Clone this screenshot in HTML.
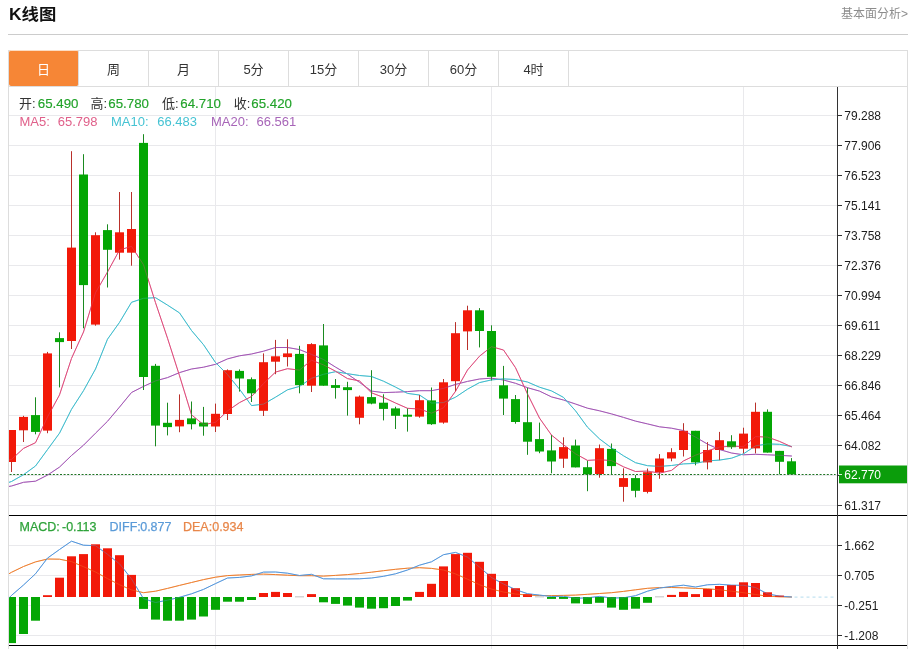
<!DOCTYPE html>
<html lang="zh-CN"><head><meta charset="utf-8"><title>K线图</title>
<style>
html,body{margin:0;padding:0;background:#fff;}
body{width:917px;height:649px;position:relative;overflow:hidden;font-family:"Liberation Sans","Noto Sans CJK SC",sans-serif;color:#333;}
.ttl{position:absolute;left:8.8px;top:0.3px;height:28px;line-height:28px;transform:scale(1.01,0.94);transform-origin:0 50%;font-size:17.2px;font-weight:bold;color:#111;white-space:nowrap;}
.more{position:absolute;right:9px;top:4.6px;height:18px;line-height:18px;font-size:12px;color:#8c8c8c;white-space:nowrap;}
.hr{position:absolute;left:8px;top:34px;width:900px;height:1px;background:#ccc;}
.tabs{position:absolute;left:8px;top:50px;width:898px;height:35px;border:1px solid #ddd;background:#fff;}
.tabs ul{list-style:none;margin:0;padding:0;}
.tabs li{float:left;width:69px;height:35px;line-height:37px;border-right:1px solid #ddd;text-align:center;font-size:13px;color:#333;}
.tabs li.on{background:#f68636;color:#fff;border-radius:2px;margin-top:-1px;border-top:1px solid #fbdcc4;}
.chart{position:absolute;left:0;top:0;width:917px;height:649px;}
.chart text{font-family:"Liberation Sans","Noto Sans CJK SC",sans-serif;}
</style></head><body>
<div class="ttl">K线图</div>
<div class="more">基本面分析&gt;</div>
<div class="hr"></div>
<div class="tabs"><ul><li class="on">日</li><li>周</li><li>月</li><li>5分</li><li>15分</li><li>30分</li><li>60分</li><li>4时</li></ul></div>
<svg class="chart" width="917" height="649" viewBox="0 0 917 649">
<g shape-rendering="crispEdges">
<rect x="8" y="86" width="1" height="563" fill="#ddd"/>
<rect x="907" y="86" width="1" height="563" fill="#ddd"/>
<rect x="9" y="115" width="828" height="1" fill="#e9e9ec"/>
<rect x="9" y="145" width="828" height="1" fill="#e9e9ec"/>
<rect x="9" y="175" width="828" height="1" fill="#e9e9ec"/>
<rect x="9" y="205" width="828" height="1" fill="#e9e9ec"/>
<rect x="9" y="235" width="828" height="1" fill="#e9e9ec"/>
<rect x="9" y="265" width="828" height="1" fill="#e9e9ec"/>
<rect x="9" y="295" width="828" height="1" fill="#e9e9ec"/>
<rect x="9" y="325" width="828" height="1" fill="#e9e9ec"/>
<rect x="9" y="355" width="828" height="1" fill="#e9e9ec"/>
<rect x="9" y="385" width="828" height="1" fill="#e9e9ec"/>
<rect x="9" y="415" width="828" height="1" fill="#e9e9ec"/>
<rect x="9" y="445" width="828" height="1" fill="#e9e9ec"/>
<rect x="9" y="475" width="828" height="1" fill="#e9e9ec"/>
<rect x="9" y="505" width="828" height="1" fill="#e9e9ec"/>
<rect x="9" y="545" width="828" height="1" fill="#e9e9ec"/>
<rect x="9" y="575" width="828" height="1" fill="#e9e9ec"/>
<rect x="9" y="605" width="828" height="1" fill="#e9e9ec"/>
<rect x="9" y="635" width="828" height="1" fill="#e9e9ec"/>
<rect x="215" y="87" width="1" height="562" fill="#e9e9ec"/>
<rect x="491" y="87" width="1" height="562" fill="#e9e9ec"/>
<rect x="743" y="87" width="1" height="562" fill="#e9e9ec"/>
</g>
<svg x="9" y="87" width="828" height="562" viewBox="9 87 828 562" overflow="hidden">
<g fill="none" stroke-width="1" stroke-linejoin="round" stroke-linecap="round">
<polyline stroke="#a357b5" points="-0.5,488 11.5,486 23.5,482.3 35.5,481.2 47.5,475.1 59.5,467.1 71.5,455.5 83.5,445.2 95.5,433.2 107.5,421.3 119.5,407.1 131.5,392.5 143.5,386.4 155.5,380.9 167.5,377.6 179.5,372.6 191.5,369 203.5,367.2 215.5,364.3 227.5,358.9 239.5,355.8 251.5,354 263.5,351.2 275.5,347.5 287.5,347.5 299.5,349.6 311.5,354.4 323.5,359.5 335.5,367.1 347.5,374.1 359.5,382.3 371.5,391.1 383.5,392.6 395.5,392.2 407.5,391.6 419.5,390.7 431.5,390.7 443.5,388.4 455.5,384.4 467.5,381.4 479.5,379 491.5,378.2 503.5,380 515.5,383.3 527.5,387.7 539.5,391.1 551.5,396.9 563.5,400 575.5,404 587.5,408.2 599.5,410.8 611.5,413.9 623.5,417.4 635.5,421.1 647.5,423.9 659.5,426.8 671.5,428.2 683.5,430.6 695.5,437.1 707.5,444.1 719.5,449.5 731.5,453 743.5,454.8 755.5,454.3 767.5,454.8 779.5,455.3 791.5,456"/><polyline stroke="#3fbccd" points="-0.5,485.5 11.5,481.5 23.5,474.7 35.5,466 47.5,449.6 59.5,433.2 71.5,409.3 83.5,390.7 95.5,369 107.5,339.2 119.5,322.4 131.5,302.3 143.5,298.3 155.5,297.7 167.5,305.1 179.5,312.9 191.5,330.5 203.5,344.7 215.5,362.5 227.5,374.6 239.5,389.2 251.5,405.6 263.5,404.1 275.5,397.2 287.5,389.8 299.5,386.4 311.5,378.3 323.5,374.3 335.5,371.7 347.5,373.7 359.5,375.5 371.5,376.5 383.5,381.2 395.5,387.1 407.5,393.4 419.5,395 431.5,403 443.5,402.6 455.5,397.2 467.5,389.2 479.5,382.6 491.5,379.9 503.5,378.9 515.5,379.5 527.5,382 539.5,387.2 551.5,390.9 563.5,397.4 575.5,410.8 587.5,427.2 599.5,438.9 611.5,447.9 623.5,455.8 635.5,462.7 647.5,465.7 659.5,466.4 671.5,465.5 683.5,463.9 695.5,463.4 707.5,460.9 719.5,460.1 731.5,458.2 743.5,453.8 755.5,445.9 767.5,443.9 779.5,444.3 791.5,446.5"/><polyline stroke="#de4c7c" points="-0.5,462 11.5,459.4 23.5,448.4 35.5,442.7 47.5,417 59.5,394.9 71.5,358.4 83.5,332 95.5,292.7 107.5,272 119.5,250 131.5,246.3 143.5,264.7 155.5,302.7 167.5,338.2 179.5,375.7 191.5,414.8 203.5,424.7 215.5,422.3 227.5,410.9 239.5,402.6 251.5,396.5 263.5,383.6 275.5,372.1 287.5,368.7 299.5,370.1 311.5,360.2 323.5,364.9 335.5,371.2 347.5,378.6 359.5,380.9 371.5,392.8 383.5,397.4 395.5,403 407.5,408.3 419.5,409 431.5,413.2 443.5,407.8 455.5,391.3 467.5,370 479.5,356.2 491.5,346.7 503.5,350 515.5,367.7 527.5,394 539.5,418.1 551.5,435.1 563.5,444.8 575.5,453.8 587.5,460.4 599.5,459.7 611.5,460.6 623.5,466.8 635.5,471.5 647.5,471.1 659.5,473.1 671.5,470.4 683.5,460.9 695.5,455.2 707.5,450.8 719.5,447.1 731.5,446.1 743.5,446.7 755.5,436.6 767.5,437.1 779.5,441.4 791.5,446.8"/><polyline stroke="#ee7f30" points="-0.5,579.3 11.5,572.3 23.5,566.5 35.5,561.9 47.5,559 59.5,559.2 71.5,561.6 83.5,566.7 95.5,572 107.5,578.6 119.5,584.7 131.5,589.9 143.5,592.7 155.5,591.2 167.5,588.4 179.5,585.4 191.5,582.5 203.5,579.6 215.5,577.2 227.5,575.6 239.5,575 251.5,574.4 263.5,574.1 275.5,574.6 287.5,575.2 299.5,575.7 311.5,575.7 323.5,576.1 335.5,575.4 347.5,574.6 359.5,573.5 371.5,572.2 383.5,570.7 395.5,569.3 407.5,568.2 419.5,567.7 431.5,568.4 443.5,570 455.5,573.9 467.5,579.2 479.5,584.7 491.5,589.1 503.5,592 515.5,594 527.5,595.1 539.5,595.5 551.5,595.6 563.5,595.4 575.5,595.1 587.5,594.3 599.5,593.5 611.5,592.7 623.5,591.4 635.5,589.8 647.5,588.3 659.5,587.6 671.5,587.5 683.5,587.8 695.5,588.4 707.5,588.8 719.5,589.8 731.5,591.2 743.5,592.7 755.5,594.5 767.5,596.2 779.5,596.8 791.5,597"/><polyline stroke="#5597dc" points="-0.5,607.4 11.5,595.4 23.5,585 35.5,573.8 47.5,558.1 59.5,549.5 71.5,541.2 83.5,545.2 95.5,545.7 107.5,554.3 119.5,563.8 131.5,578.9 143.5,598.7 155.5,602.5 167.5,600.2 179.5,597.3 191.5,593.8 203.5,589.4 215.5,583.6 227.5,578 239.5,577.4 251.5,575.9 263.5,572.1 275.5,572 287.5,573.2 299.5,575.5 311.5,574.3 323.5,578.8 335.5,578.9 347.5,578.9 359.5,578.8 371.5,578 383.5,576.3 395.5,573.8 407.5,570 419.5,565.2 431.5,561.8 443.5,554.7 455.5,552.4 467.5,557.1 479.5,567.1 491.5,577.5 503.5,584 515.5,589.6 527.5,593.7 539.5,595.1 551.5,596.5 563.5,596.3 575.5,598.3 587.5,597.8 599.5,596.4 611.5,598 623.5,597.8 635.5,595.7 647.5,591.2 659.5,588 671.5,586.5 683.5,585.2 695.5,587 707.5,584.8 719.5,584.3 731.5,585.2 743.5,585.3 755.5,587.5 767.5,593.9 779.5,596.1 791.5,597"/>
</g>
<rect x="11" y="430" width="1" height="42" fill="#b9302a"/>
<rect x="7" y="430" width="9" height="32" fill="#f21909"/>
<rect x="23" y="415.8" width="1" height="26.2" fill="#b9302a"/>
<rect x="19" y="416.9" width="9" height="13.4" fill="#f21909"/>
<rect x="35" y="397.3" width="1" height="37" fill="#1a8a20"/>
<rect x="31" y="415.1" width="9" height="16.8" fill="#04a604"/>
<rect x="47" y="351.9" width="1" height="81.3" fill="#b9302a"/>
<rect x="43" y="353.4" width="9" height="77.2" fill="#f21909"/>
<rect x="59" y="332.3" width="1" height="55.1" fill="#1a8a20"/>
<rect x="55" y="338.1" width="9" height="4" fill="#04a604"/>
<rect x="71" y="151.2" width="1" height="197.8" fill="#b9302a"/>
<rect x="67" y="247.6" width="9" height="93.4" fill="#f21909"/>
<rect x="83" y="154.2" width="1" height="174.1" fill="#1a8a20"/>
<rect x="79" y="174.5" width="9" height="110.6" fill="#04a604"/>
<rect x="95" y="232.3" width="1" height="93.4" fill="#b9302a"/>
<rect x="91" y="235.2" width="9" height="89.4" fill="#f21909"/>
<rect x="107" y="224.3" width="1" height="63.2" fill="#1a8a20"/>
<rect x="103" y="230.1" width="9" height="19.7" fill="#04a604"/>
<rect x="119" y="192" width="1" height="67.6" fill="#b9302a"/>
<rect x="115" y="232.3" width="9" height="20.4" fill="#f21909"/>
<rect x="131" y="192" width="1" height="73.7" fill="#b9302a"/>
<rect x="127" y="229" width="9" height="23.7" fill="#f21909"/>
<rect x="143" y="134.2" width="1" height="255.8" fill="#1a8a20"/>
<rect x="139" y="142.9" width="9" height="234.1" fill="#04a604"/>
<rect x="155" y="363.9" width="1" height="82.4" fill="#1a8a20"/>
<rect x="151" y="365.8" width="9" height="59.8" fill="#04a604"/>
<rect x="167" y="402.7" width="1" height="32.7" fill="#1a8a20"/>
<rect x="163" y="422.8" width="9" height="4.3" fill="#04a604"/>
<rect x="179" y="394.4" width="1" height="37.8" fill="#b9302a"/>
<rect x="175" y="419.9" width="9" height="6.5" fill="#f21909"/>
<rect x="191" y="401.5" width="1" height="27.9" fill="#1a8a20"/>
<rect x="187" y="418.4" width="9" height="5.8" fill="#04a604"/>
<rect x="203" y="406.9" width="1" height="28.8" fill="#1a8a20"/>
<rect x="199" y="422.6" width="9" height="3.9" fill="#04a604"/>
<rect x="215" y="403.6" width="1" height="28.4" fill="#b9302a"/>
<rect x="211" y="413.8" width="9" height="12.7" fill="#f21909"/>
<rect x="227" y="369.4" width="1" height="50.6" fill="#b9302a"/>
<rect x="223" y="370.2" width="9" height="43.8" fill="#f21909"/>
<rect x="239" y="369.4" width="1" height="22.2" fill="#1a8a20"/>
<rect x="235" y="370.9" width="9" height="7.6" fill="#04a604"/>
<rect x="251" y="377.4" width="1" height="24.6" fill="#1a8a20"/>
<rect x="247" y="379.2" width="9" height="14.1" fill="#04a604"/>
<rect x="263" y="353.4" width="1" height="62.6" fill="#b9302a"/>
<rect x="259" y="362.2" width="9" height="48.6" fill="#f21909"/>
<rect x="275" y="339.9" width="1" height="34.3" fill="#b9302a"/>
<rect x="271" y="356.3" width="9" height="5.4" fill="#f21909"/>
<rect x="287" y="339.3" width="1" height="27.2" fill="#b9302a"/>
<rect x="283" y="353.4" width="9" height="3.7" fill="#f21909"/>
<rect x="299" y="345.8" width="1" height="47.5" fill="#1a8a20"/>
<rect x="295" y="353.9" width="9" height="31.2" fill="#04a604"/>
<rect x="311" y="343.2" width="1" height="48.8" fill="#b9302a"/>
<rect x="307" y="344.1" width="9" height="41.6" fill="#f21909"/>
<rect x="323" y="324" width="1" height="61.7" fill="#1a8a20"/>
<rect x="319" y="345.4" width="9" height="40.3" fill="#04a604"/>
<rect x="335" y="379" width="1" height="19.6" fill="#1a8a20"/>
<rect x="331" y="385.1" width="9" height="2.8" fill="#04a604"/>
<rect x="347" y="381.8" width="1" height="33.8" fill="#1a8a20"/>
<rect x="343" y="387.2" width="9" height="2.9" fill="#04a604"/>
<rect x="359" y="395.5" width="1" height="28.8" fill="#b9302a"/>
<rect x="355" y="396.6" width="9" height="21.2" fill="#f21909"/>
<rect x="371" y="370.2" width="1" height="34.1" fill="#1a8a20"/>
<rect x="367" y="397.1" width="9" height="6.5" fill="#04a604"/>
<rect x="383" y="394.3" width="1" height="26.1" fill="#1a8a20"/>
<rect x="379" y="402.7" width="9" height="6.2" fill="#04a604"/>
<rect x="395" y="406.7" width="1" height="22.3" fill="#1a8a20"/>
<rect x="391" y="408.4" width="9" height="7.4" fill="#04a604"/>
<rect x="407" y="408.4" width="1" height="23.2" fill="#1a8a20"/>
<rect x="403" y="414.7" width="9" height="2" fill="#04a604"/>
<rect x="419" y="395" width="1" height="22.7" fill="#b9302a"/>
<rect x="415" y="400.2" width="9" height="16.4" fill="#f21909"/>
<rect x="431" y="387.5" width="1" height="37.4" fill="#1a8a20"/>
<rect x="427" y="400.4" width="9" height="23.8" fill="#04a604"/>
<rect x="443" y="379" width="1" height="44.7" fill="#b9302a"/>
<rect x="439" y="382.3" width="9" height="40.3" fill="#f21909"/>
<rect x="455" y="322.1" width="1" height="69.3" fill="#b9302a"/>
<rect x="451" y="333.2" width="9" height="48" fill="#f21909"/>
<rect x="467" y="305.7" width="1" height="44.3" fill="#b9302a"/>
<rect x="463" y="310.3" width="9" height="21.1" fill="#f21909"/>
<rect x="479" y="308.1" width="1" height="39.3" fill="#1a8a20"/>
<rect x="475" y="310.3" width="9" height="20.7" fill="#04a604"/>
<rect x="491" y="325.3" width="1" height="55.2" fill="#1a8a20"/>
<rect x="487" y="331" width="9" height="45.8" fill="#04a604"/>
<rect x="503" y="365.9" width="1" height="49.1" fill="#1a8a20"/>
<rect x="499" y="385.3" width="9" height="13.3" fill="#04a604"/>
<rect x="515" y="395" width="1" height="28.7" fill="#1a8a20"/>
<rect x="511" y="399.1" width="9" height="22.9" fill="#04a604"/>
<rect x="527" y="387.7" width="1" height="67.1" fill="#1a8a20"/>
<rect x="523" y="422.2" width="9" height="19.5" fill="#04a604"/>
<rect x="539" y="422.6" width="1" height="30.6" fill="#1a8a20"/>
<rect x="535" y="439.1" width="9" height="12.4" fill="#04a604"/>
<rect x="551" y="435.1" width="1" height="38.2" fill="#1a8a20"/>
<rect x="547" y="450.4" width="9" height="11.1" fill="#04a604"/>
<rect x="563" y="437.3" width="1" height="30.6" fill="#b9302a"/>
<rect x="559" y="447.1" width="9" height="11.6" fill="#f21909"/>
<rect x="575" y="439.6" width="1" height="27.8" fill="#1a8a20"/>
<rect x="571" y="445.5" width="9" height="21.9" fill="#04a604"/>
<rect x="587" y="460.7" width="1" height="30.5" fill="#1a8a20"/>
<rect x="583" y="467.2" width="9" height="7.2" fill="#04a604"/>
<rect x="599" y="444.5" width="1" height="33.2" fill="#b9302a"/>
<rect x="595" y="448.2" width="9" height="25.8" fill="#f21909"/>
<rect x="611" y="443.5" width="1" height="30.9" fill="#1a8a20"/>
<rect x="607" y="448.9" width="9" height="17.2" fill="#04a604"/>
<rect x="623" y="468.3" width="1" height="33.4" fill="#b9302a"/>
<rect x="619" y="478.1" width="9" height="8.8" fill="#f21909"/>
<rect x="635" y="475.1" width="1" height="22.2" fill="#1a8a20"/>
<rect x="631" y="478.1" width="9" height="12.7" fill="#04a604"/>
<rect x="647" y="468.5" width="1" height="24.9" fill="#b9302a"/>
<rect x="643" y="472.2" width="9" height="19.7" fill="#f21909"/>
<rect x="659" y="454.1" width="1" height="24.7" fill="#b9302a"/>
<rect x="655" y="458.5" width="9" height="13.7" fill="#f21909"/>
<rect x="671" y="448.2" width="1" height="13.1" fill="#b9302a"/>
<rect x="667" y="452.2" width="9" height="6.3" fill="#f21909"/>
<rect x="683" y="423.2" width="1" height="33.3" fill="#b9302a"/>
<rect x="679" y="430.8" width="9" height="19.2" fill="#f21909"/>
<rect x="695" y="430.8" width="1" height="34.5" fill="#1a8a20"/>
<rect x="691" y="430.8" width="9" height="31.6" fill="#04a604"/>
<rect x="707" y="442.1" width="1" height="27.3" fill="#b9302a"/>
<rect x="703" y="450" width="9" height="12.4" fill="#f21909"/>
<rect x="719" y="431.9" width="1" height="28.3" fill="#b9302a"/>
<rect x="715" y="440.2" width="9" height="9.8" fill="#f21909"/>
<rect x="731" y="435.2" width="1" height="13.7" fill="#1a8a20"/>
<rect x="727" y="441.3" width="9" height="5.9" fill="#04a604"/>
<rect x="743" y="427.7" width="1" height="25.7" fill="#b9302a"/>
<rect x="739" y="433.6" width="9" height="15.1" fill="#f21909"/>
<rect x="755" y="402.6" width="1" height="50.8" fill="#b9302a"/>
<rect x="751" y="411.8" width="9" height="36.6" fill="#f21909"/>
<rect x="767" y="409.4" width="1" height="43.2" fill="#1a8a20"/>
<rect x="763" y="411.8" width="9" height="40.8" fill="#04a604"/>
<rect x="779" y="450.9" width="1" height="23.5" fill="#1a8a20"/>
<rect x="775" y="450.9" width="9" height="10.9" fill="#04a604"/>
<rect x="791" y="458.1" width="1" height="16.9" fill="#1a8a20"/>
<rect x="787" y="461.3" width="9" height="13.1" fill="#04a604"/>
<rect x="7" y="597" width="9" height="46.1" fill="#04a604"/>
<rect x="19" y="597" width="9" height="37" fill="#04a604"/>
<rect x="31" y="597" width="9" height="23.7" fill="#04a604"/>
<rect x="43" y="595.2" width="9" height="1.8" fill="#f21909"/>
<rect x="55" y="577.7" width="9" height="19.3" fill="#f21909"/>
<rect x="67" y="556.3" width="9" height="40.7" fill="#f21909"/>
<rect x="79" y="554.1" width="9" height="42.9" fill="#f21909"/>
<rect x="91" y="544.3" width="9" height="52.7" fill="#f21909"/>
<rect x="103" y="548.3" width="9" height="48.7" fill="#f21909"/>
<rect x="115" y="555.2" width="9" height="41.8" fill="#f21909"/>
<rect x="127" y="574.9" width="9" height="22.1" fill="#f21909"/>
<rect x="139" y="597" width="9" height="11.9" fill="#04a604"/>
<rect x="151" y="597" width="9" height="22.6" fill="#04a604"/>
<rect x="163" y="597" width="9" height="23.7" fill="#04a604"/>
<rect x="175" y="597" width="9" height="23.7" fill="#04a604"/>
<rect x="187" y="597" width="9" height="22.6" fill="#04a604"/>
<rect x="199" y="597" width="9" height="19.5" fill="#04a604"/>
<rect x="211" y="597" width="9" height="12.8" fill="#04a604"/>
<rect x="223" y="597" width="9" height="4.7" fill="#04a604"/>
<rect x="235" y="597" width="9" height="4.7" fill="#04a604"/>
<rect x="247" y="597" width="9" height="3" fill="#04a604"/>
<rect x="259" y="593" width="9" height="4" fill="#f21909"/>
<rect x="271" y="591.9" width="9" height="5.1" fill="#f21909"/>
<rect x="283" y="593" width="9" height="4" fill="#f21909"/>
<rect x="295" y="596.4" width="9" height="0.9" fill="#b9b9b9"/>
<rect x="307" y="594.1" width="9" height="2.9" fill="#f21909"/>
<rect x="319" y="597" width="9" height="5.3" fill="#04a604"/>
<rect x="331" y="597" width="9" height="6.9" fill="#04a604"/>
<rect x="343" y="597" width="9" height="8.6" fill="#04a604"/>
<rect x="355" y="597" width="9" height="10.6" fill="#04a604"/>
<rect x="367" y="597" width="9" height="11.7" fill="#04a604"/>
<rect x="379" y="597" width="9" height="11.2" fill="#04a604"/>
<rect x="391" y="597" width="9" height="9" fill="#04a604"/>
<rect x="403" y="597" width="9" height="3.6" fill="#04a604"/>
<rect x="415" y="591.9" width="9" height="5.1" fill="#f21909"/>
<rect x="427" y="583.8" width="9" height="13.2" fill="#f21909"/>
<rect x="439" y="566.4" width="9" height="30.6" fill="#f21909"/>
<rect x="451" y="554.1" width="9" height="42.9" fill="#f21909"/>
<rect x="463" y="552.8" width="9" height="44.2" fill="#f21909"/>
<rect x="475" y="561.8" width="9" height="35.2" fill="#f21909"/>
<rect x="487" y="573.8" width="9" height="23.2" fill="#f21909"/>
<rect x="499" y="581" width="9" height="16" fill="#f21909"/>
<rect x="511" y="588.2" width="9" height="8.8" fill="#f21909"/>
<rect x="523" y="594.1" width="9" height="2.9" fill="#f21909"/>
<rect x="535" y="596.4" width="9" height="0.9" fill="#b9b9b9"/>
<rect x="547" y="597" width="9" height="1.9" fill="#04a604"/>
<rect x="559" y="597" width="9" height="1.9" fill="#04a604"/>
<rect x="571" y="597" width="9" height="6.4" fill="#04a604"/>
<rect x="583" y="597" width="9" height="6.9" fill="#04a604"/>
<rect x="595" y="597" width="9" height="5.8" fill="#04a604"/>
<rect x="607" y="597" width="9" height="10.6" fill="#04a604"/>
<rect x="619" y="597" width="9" height="12.8" fill="#04a604"/>
<rect x="631" y="597" width="9" height="11.7" fill="#04a604"/>
<rect x="643" y="597" width="9" height="5.8" fill="#04a604"/>
<rect x="655" y="596.4" width="9" height="0.9" fill="#b9b9b9"/>
<rect x="667" y="594.9" width="9" height="2.1" fill="#f21909"/>
<rect x="679" y="591.9" width="9" height="5.1" fill="#f21909"/>
<rect x="691" y="594.1" width="9" height="2.9" fill="#f21909"/>
<rect x="703" y="589" width="9" height="8" fill="#f21909"/>
<rect x="715" y="586" width="9" height="11" fill="#f21909"/>
<rect x="727" y="585" width="9" height="12" fill="#f21909"/>
<rect x="739" y="582.3" width="9" height="14.7" fill="#f21909"/>
<rect x="751" y="583" width="9" height="14" fill="#f21909"/>
<rect x="763" y="592.3" width="9" height="4.7" fill="#f21909"/>
<rect x="775" y="595.6" width="9" height="1.4" fill="#f21909"/>
<line x1="9.6" y1="474.5" x2="835.6" y2="474.5" stroke="#1f7424" stroke-width="1" stroke-dasharray="2 1.6"/>
<g fill="none" stroke-width="1" stroke-linejoin="round" stroke-linecap="round" opacity="0.38">
<polyline stroke="#a357b5" points="-0.5,488 11.5,486 23.5,482.3 35.5,481.2 47.5,475.1 59.5,467.1 71.5,455.5 83.5,445.2 95.5,433.2 107.5,421.3 119.5,407.1 131.5,392.5 143.5,386.4 155.5,380.9 167.5,377.6 179.5,372.6 191.5,369 203.5,367.2 215.5,364.3 227.5,358.9 239.5,355.8 251.5,354 263.5,351.2 275.5,347.5 287.5,347.5 299.5,349.6 311.5,354.4 323.5,359.5 335.5,367.1 347.5,374.1 359.5,382.3 371.5,391.1 383.5,392.6 395.5,392.2 407.5,391.6 419.5,390.7 431.5,390.7 443.5,388.4 455.5,384.4 467.5,381.4 479.5,379 491.5,378.2 503.5,380 515.5,383.3 527.5,387.7 539.5,391.1 551.5,396.9 563.5,400 575.5,404 587.5,408.2 599.5,410.8 611.5,413.9 623.5,417.4 635.5,421.1 647.5,423.9 659.5,426.8 671.5,428.2 683.5,430.6 695.5,437.1 707.5,444.1 719.5,449.5 731.5,453 743.5,454.8 755.5,454.3 767.5,454.8 779.5,455.3 791.5,456"/><polyline stroke="#3fbccd" points="-0.5,485.5 11.5,481.5 23.5,474.7 35.5,466 47.5,449.6 59.5,433.2 71.5,409.3 83.5,390.7 95.5,369 107.5,339.2 119.5,322.4 131.5,302.3 143.5,298.3 155.5,297.7 167.5,305.1 179.5,312.9 191.5,330.5 203.5,344.7 215.5,362.5 227.5,374.6 239.5,389.2 251.5,405.6 263.5,404.1 275.5,397.2 287.5,389.8 299.5,386.4 311.5,378.3 323.5,374.3 335.5,371.7 347.5,373.7 359.5,375.5 371.5,376.5 383.5,381.2 395.5,387.1 407.5,393.4 419.5,395 431.5,403 443.5,402.6 455.5,397.2 467.5,389.2 479.5,382.6 491.5,379.9 503.5,378.9 515.5,379.5 527.5,382 539.5,387.2 551.5,390.9 563.5,397.4 575.5,410.8 587.5,427.2 599.5,438.9 611.5,447.9 623.5,455.8 635.5,462.7 647.5,465.7 659.5,466.4 671.5,465.5 683.5,463.9 695.5,463.4 707.5,460.9 719.5,460.1 731.5,458.2 743.5,453.8 755.5,445.9 767.5,443.9 779.5,444.3 791.5,446.5"/><polyline stroke="#de4c7c" points="-0.5,462 11.5,459.4 23.5,448.4 35.5,442.7 47.5,417 59.5,394.9 71.5,358.4 83.5,332 95.5,292.7 107.5,272 119.5,250 131.5,246.3 143.5,264.7 155.5,302.7 167.5,338.2 179.5,375.7 191.5,414.8 203.5,424.7 215.5,422.3 227.5,410.9 239.5,402.6 251.5,396.5 263.5,383.6 275.5,372.1 287.5,368.7 299.5,370.1 311.5,360.2 323.5,364.9 335.5,371.2 347.5,378.6 359.5,380.9 371.5,392.8 383.5,397.4 395.5,403 407.5,408.3 419.5,409 431.5,413.2 443.5,407.8 455.5,391.3 467.5,370 479.5,356.2 491.5,346.7 503.5,350 515.5,367.7 527.5,394 539.5,418.1 551.5,435.1 563.5,444.8 575.5,453.8 587.5,460.4 599.5,459.7 611.5,460.6 623.5,466.8 635.5,471.5 647.5,471.1 659.5,473.1 671.5,470.4 683.5,460.9 695.5,455.2 707.5,450.8 719.5,447.1 731.5,446.1 743.5,446.7 755.5,436.6 767.5,437.1 779.5,441.4 791.5,446.8"/><polyline stroke="#ee7f30" points="-0.5,579.3 11.5,572.3 23.5,566.5 35.5,561.9 47.5,559 59.5,559.2 71.5,561.6 83.5,566.7 95.5,572 107.5,578.6 119.5,584.7 131.5,589.9 143.5,592.7 155.5,591.2 167.5,588.4 179.5,585.4 191.5,582.5 203.5,579.6 215.5,577.2 227.5,575.6 239.5,575 251.5,574.4 263.5,574.1 275.5,574.6 287.5,575.2 299.5,575.7 311.5,575.7 323.5,576.1 335.5,575.4 347.5,574.6 359.5,573.5 371.5,572.2 383.5,570.7 395.5,569.3 407.5,568.2 419.5,567.7 431.5,568.4 443.5,570 455.5,573.9 467.5,579.2 479.5,584.7 491.5,589.1 503.5,592 515.5,594 527.5,595.1 539.5,595.5 551.5,595.6 563.5,595.4 575.5,595.1 587.5,594.3 599.5,593.5 611.5,592.7 623.5,591.4 635.5,589.8 647.5,588.3 659.5,587.6 671.5,587.5 683.5,587.8 695.5,588.4 707.5,588.8 719.5,589.8 731.5,591.2 743.5,592.7 755.5,594.5 767.5,596.2 779.5,596.8 791.5,597"/><polyline stroke="#5597dc" points="-0.5,607.4 11.5,595.4 23.5,585 35.5,573.8 47.5,558.1 59.5,549.5 71.5,541.2 83.5,545.2 95.5,545.7 107.5,554.3 119.5,563.8 131.5,578.9 143.5,598.7 155.5,602.5 167.5,600.2 179.5,597.3 191.5,593.8 203.5,589.4 215.5,583.6 227.5,578 239.5,577.4 251.5,575.9 263.5,572.1 275.5,572 287.5,573.2 299.5,575.5 311.5,574.3 323.5,578.8 335.5,578.9 347.5,578.9 359.5,578.8 371.5,578 383.5,576.3 395.5,573.8 407.5,570 419.5,565.2 431.5,561.8 443.5,554.7 455.5,552.4 467.5,557.1 479.5,567.1 491.5,577.5 503.5,584 515.5,589.6 527.5,593.7 539.5,595.1 551.5,596.5 563.5,596.3 575.5,598.3 587.5,597.8 599.5,596.4 611.5,598 623.5,597.8 635.5,595.7 647.5,591.2 659.5,588 671.5,586.5 683.5,585.2 695.5,587 707.5,584.8 719.5,584.3 731.5,585.2 743.5,585.3 755.5,587.5 767.5,593.9 779.5,596.1 791.5,597"/>
</g>
<line x1="794.5" y1="597.2" x2="836" y2="597.2" stroke="#c4e3f2" stroke-width="1.3" stroke-dasharray="3 3"/>
</svg>
<g shape-rendering="crispEdges">
<rect x="9" y="515" width="898" height="1" fill="#000"/>
<rect x="9" y="645" width="898" height="1" fill="#000"/>
<rect x="837" y="87" width="1" height="562" fill="#333"/>
<rect x="838" y="115" width="4" height="1" fill="#333"/>
<rect x="838" y="145" width="4" height="1" fill="#333"/>
<rect x="838" y="175" width="4" height="1" fill="#333"/>
<rect x="838" y="205" width="4" height="1" fill="#333"/>
<rect x="838" y="235" width="4" height="1" fill="#333"/>
<rect x="838" y="265" width="4" height="1" fill="#333"/>
<rect x="838" y="295" width="4" height="1" fill="#333"/>
<rect x="838" y="325" width="4" height="1" fill="#333"/>
<rect x="838" y="355" width="4" height="1" fill="#333"/>
<rect x="838" y="385" width="4" height="1" fill="#333"/>
<rect x="838" y="415" width="4" height="1" fill="#333"/>
<rect x="838" y="445" width="4" height="1" fill="#333"/>
<rect x="838" y="475" width="4" height="1" fill="#333"/>
<rect x="838" y="505" width="4" height="1" fill="#333"/>
<rect x="838" y="545" width="4" height="1" fill="#333"/>
<rect x="838" y="575" width="4" height="1" fill="#333"/>
<rect x="838" y="605" width="4" height="1" fill="#333"/>
<rect x="838" y="635" width="4" height="1" fill="#333"/>
<rect x="839" y="465.5" width="68" height="17.8" fill="#0b9d0b" shape-rendering="auto"/>
<rect x="838" y="474" width="4" height="1" fill="#d8f0d8"/>
</g>
<g font-size="12" fill="#1c1c1c">
<text x="844.3" y="120.1">79.288</text>
<text x="844.3" y="150.1">77.906</text>
<text x="844.3" y="180.1">76.523</text>
<text x="844.3" y="210.1">75.141</text>
<text x="844.3" y="240.1">73.758</text>
<text x="844.3" y="270.1">72.376</text>
<text x="844.3" y="300.1">70.994</text>
<text x="844.3" y="330.1">69.611</text>
<text x="844.3" y="360.1">68.229</text>
<text x="844.3" y="390.1">66.846</text>
<text x="844.3" y="420.1">65.464</text>
<text x="844.3" y="450.1">64.082</text>
<text x="844.3" y="510.1">61.317</text>
<text x="844.3" y="550.1">1.662</text>
<text x="844.3" y="580.1">0.705</text>
<text x="844.3" y="610.1">-0.251</text>
<text x="844.3" y="640.1">-1.208</text>
</g>
<text x="844.3" y="479" font-size="12" fill="#fff">62.770</text>
<g font-size="13.3" stroke-width="0.15">
<text x="19" y="108" fill="#333" font-size="13">开:</text>
<text x="37.8" y="108" fill="#22a32a" stroke="#22a32a">65.490</text>
<text x="90.5" y="108" fill="#333" font-size="13">高:</text>
<text x="108.3" y="108" fill="#22a32a" stroke="#22a32a">65.780</text>
<text x="162" y="108" fill="#333" font-size="13">低:</text>
<text x="180.3" y="108" fill="#22a32a" stroke="#22a32a">64.710</text>
<text x="233.7" y="108" fill="#333" font-size="13">收:</text>
<text x="251.3" y="108" fill="#22a32a" stroke="#22a32a">65.420</text>
</g>
<g font-size="13">
<text x="19.5" y="125.7" fill="#e0608a">MA5:</text>
<text x="57.7" y="125.7" fill="#e0608a">65.798</text>
<text x="111" y="125.7" fill="#45c3d3">MA10:</text>
<text x="157.2" y="125.7" fill="#45c3d3">66.483</text>
<text x="211" y="125.7" fill="#a765b8">MA20:</text>
<text x="256.5" y="125.7" fill="#a765b8">66.561</text>
</g>
<g font-size="12.5" stroke-width="0.25">
<text x="19.5" y="531" fill="#2ea33a" stroke="#2ea33a">MACD:</text>
<text x="62" y="531" fill="#2ea33a" stroke="#2ea33a">-0.113</text>
<text x="109.5" y="531" fill="#5b9bd8" stroke="#5b9bd8">DIFF:</text>
<text x="140.2" y="531" fill="#5b9bd8" stroke="#5b9bd8">0.877</text>
<text x="183" y="531" fill="#e8874a" stroke="#e8874a">DEA:</text>
<text x="212.2" y="531" fill="#e8874a" stroke="#e8874a">0.934</text>
</g>
</svg>
</body></html>
